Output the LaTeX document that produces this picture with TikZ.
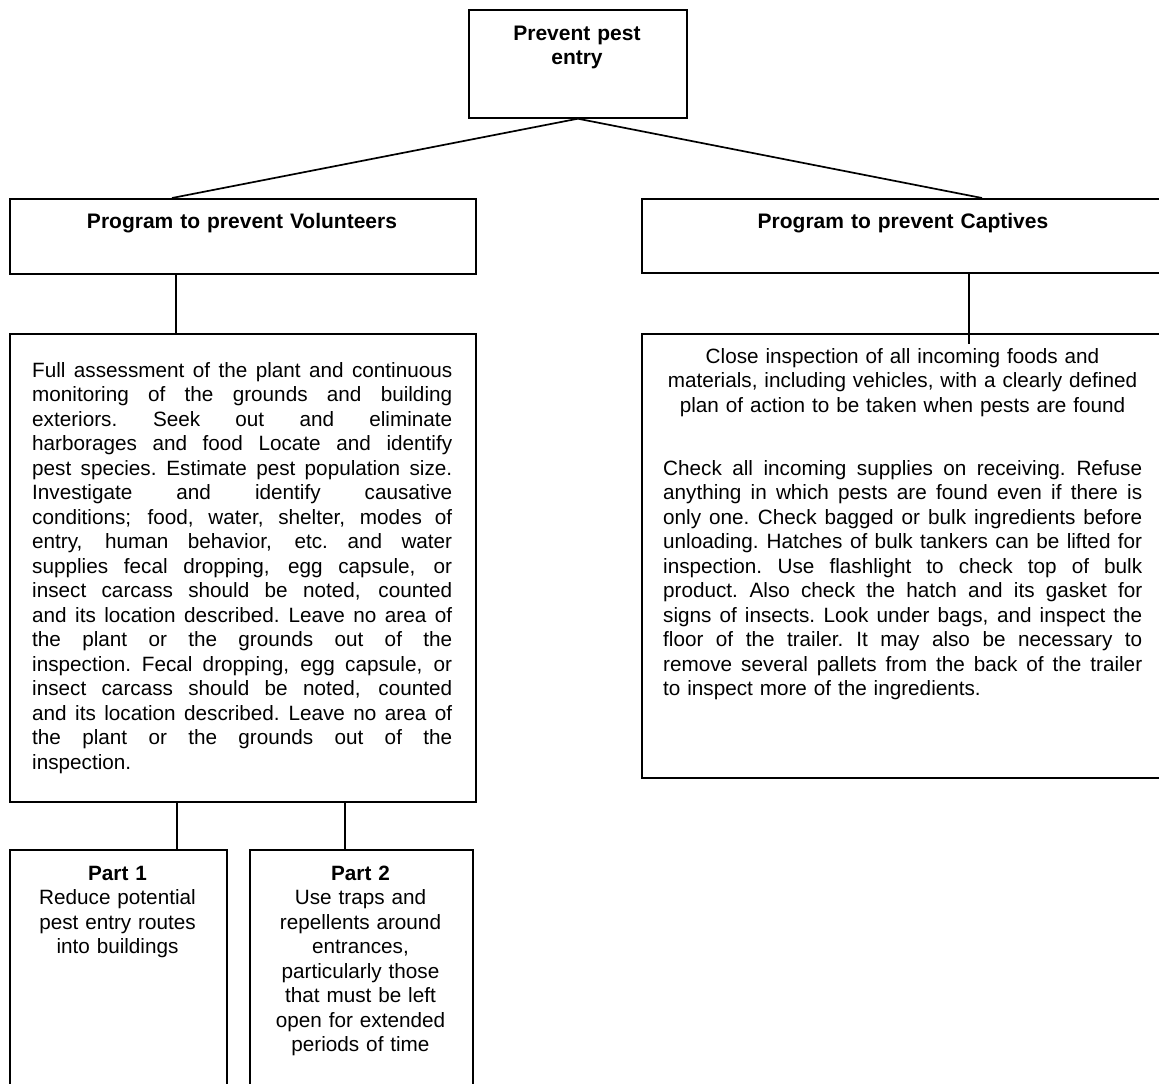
\documentclass[tikz,border=0pt]{standalone}
\usepackage{fontspec}
\setmainfont{Liberation Sans}
\newcommand\jl[2]{\noindent\hbox to #1{\spaceskip=0.278em plus 2em minus 0.05em\xspaceskip=0.3em plus 2em minus 0.05em #2}\par}
\begin{document}
\begin{tikzpicture}[x=1pt,y=-1pt,
  box/.style={draw, line width=1.7pt, inner sep=0pt, anchor=north west, rectangle},
  conn/.style={line width=1.7pt},
  txt/.style={inner sep=0pt, font=\fontsize{20.7}{24.5}\selectfont},
  ttxt/.style={inner sep=0pt, font=\fontsize{21}{24.5}\selectfont\bfseries, anchor=base, align=center},
  ctxt/.style={txt, anchor=base, align=center},
  jtxt/.style={txt, anchor=base west}]
\useasboundingbox (0,0) rectangle (1159,1084);
\clip (0,0) rectangle (1159,1084);

% boxes
\node[box, minimum width=218pt, minimum height=108pt] (topbox) at (468,9) {};
\node[box, minimum width=466pt, minimum height=75pt] (volbox) at (9,198) {};
\node[box, minimum width=525pt, minimum height=74pt] (capbox) at (641,198) {};
\node[box, minimum width=466pt, minimum height=468pt] (vdetbox) at (9,333) {};
\node[box, minimum width=525pt, minimum height=444pt] (cdetbox) at (641,333) {};
\node[box, minimum width=217pt, minimum height=260pt] (p1box) at (9,849) {};
\node[box, minimum width=223pt, minimum height=260pt] (p2box) at (249,849) {};

% texts
\node[ttxt, text width=210pt] (toptext) at (577,40) {Prevent pest\\entry};
\node[ttxt, text width=450pt] (voltext) at (242,228) {Program to prevent Volunteers};
\node[ttxt, text width=500pt] (captext) at (903,228) {Program to prevent Captives};

\node[jtxt, text width=420pt] (vdettext) at (32,377) {%
\jl{420pt}{Full assessment of the plant and continuous}%
\jl{420pt}{monitoring of the grounds and building}%
\jl{420pt}{exteriors. Seek out and eliminate}%
\jl{420pt}{harborages and food Locate and identify}%
\jl{420pt}{pest species. Estimate pest population size.}%
\jl{420pt}{Investigate and identify causative}%
\jl{420pt}{conditions; food, water, shelter, modes of}%
\jl{420pt}{entry, human behavior, etc. and water}%
\jl{420pt}{supplies fecal dropping, egg capsule, or}%
\jl{420pt}{insect carcass should be noted, counted}%
\jl{420pt}{and its location described. Leave no area of}%
\jl{420pt}{the plant or the grounds out of the}%
\jl{420pt}{inspection. Fecal dropping, egg capsule, or}%
\jl{420pt}{insect carcass should be noted, counted}%
\jl{420pt}{and its location described. Leave no area of}%
\jl{420pt}{the plant or the grounds out of the}%
\noindent inspection.};

\node[ctxt, text width=520pt] (cdettext1) at (902.5,363) {Close inspection of all incoming foods and\\materials, including vehicles, with a clearly defined\\plan of action to be taken when pests are found};

\node[jtxt, text width=479pt] (cdettext2) at (663,475) {%
\jl{479pt}{Check all incoming supplies on receiving. Refuse}%
\jl{479pt}{anything in which pests are found even if there is}%
\jl{479pt}{only one. Check bagged or bulk ingredients before}%
\jl{479pt}{unloading. Hatches of bulk tankers can be lifted for}%
\jl{479pt}{inspection. Use flashlight to check top of bulk}%
\jl{479pt}{product. Also check the hatch and its gasket for}%
\jl{479pt}{signs of insects. Look under bags, and inspect the}%
\jl{479pt}{floor of the trailer. It may also be necessary to}%
\jl{479pt}{remove several pallets from the back of the trailer}%
\noindent to inspect more of the ingredients.};

\node[ctxt, text width=210pt] (p1text) at (117.5,880) {\textbf{Part 1}\\Reduce potential\\pest entry routes\\into buildings};
\node[ctxt, text width=220pt] (p2text) at (360.5,880) {\textbf{Part 2}\\Use traps and\\repellents around\\entrances,\\particularly those\\that must be left\\open for extended\\periods of time};

% connectors
\draw[conn] (topbox.south) -- ([xshift=163pt]volbox.north west);
\draw[conn] (topbox.south) -- ([xshift=341pt]capbox.north west);
\draw[conn] ([xshift=167pt]volbox.south west) -- ([xshift=167pt]vdetbox.north west);
\draw[conn] ([xshift=328pt]capbox.south west) -- ([xshift=328pt,yshift=-11pt]cdetbox.north west);
\draw[conn] ([xshift=168pt]vdetbox.south west) -- ([xshift=168pt]p1box.north west);
\draw[conn] ([xshift=336pt]vdetbox.south west) -- ([xshift=96pt]p2box.north west);
\end{tikzpicture}
\end{document}
